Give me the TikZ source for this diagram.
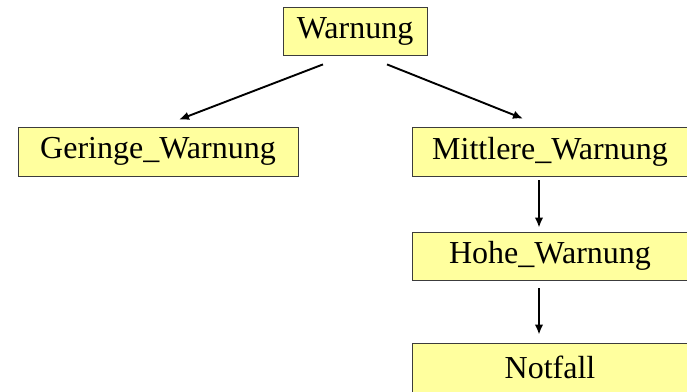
\documentclass[tikz,border=0pt]{standalone}
\usepackage{fontspec}
\setmainfont{Liberation Serif}
\usepackage{tikz}
\usetikzlibrary{arrows.meta,calc,positioning}
\definecolor{BoxYellow}{RGB}{255,255,158}
\definecolor{BoxEdge}{RGB}{60,60,60}
\tikzset{
  box/.style={draw=BoxEdge,line width=0.8pt,fill=BoxYellow,
    minimum height=49pt,inner sep=0pt,
    font=\fontsize{32}{36}\selectfont},
  arr/.style={line width=1.9pt,-{Latex[length=10pt,width=8.5pt]}}
}

\begin{document}
\begin{tikzpicture}[x=1pt,y=-1pt]
\useasboundingbox (0,0) rectangle (687,391);
\clip (0,0) rectangle (687,391);
\node[box,minimum width=144pt,minimum height=48pt] (warnung) at (355,31) {Warnung};
\node[box,minimum width=280pt] (geringe) at (158,151.5) {Geringe\_Warnung};
\node[box,minimum width=276pt] (mittlere) at (550,151.5) {Mittlere\_Warnung};
\node[box,minimum width=276pt,minimum height=48pt] (hohe) at (550,256) {Hohe\_Warnung};
\node[box,minimum width=276pt] (notfall) at (550,367.5) {Notfall};
\draw[arr] ($(warnung.south)+(-32,9)$) -- ($(geringe.north)+(21,-7)$);
\draw[arr] ($(warnung.south)+(32,9)$) -- ($(mittlere.north)+(-27,-8)$);
\draw[arr] ($(mittlere.south)+(-11,4)$) -- ($(hohe.north)+(-11,-4)$);
\draw[arr] ($(hohe.south)+(-11,8)$) -- ($(notfall.north)+(-11,-8)$);
\end{tikzpicture}
\end{document}
